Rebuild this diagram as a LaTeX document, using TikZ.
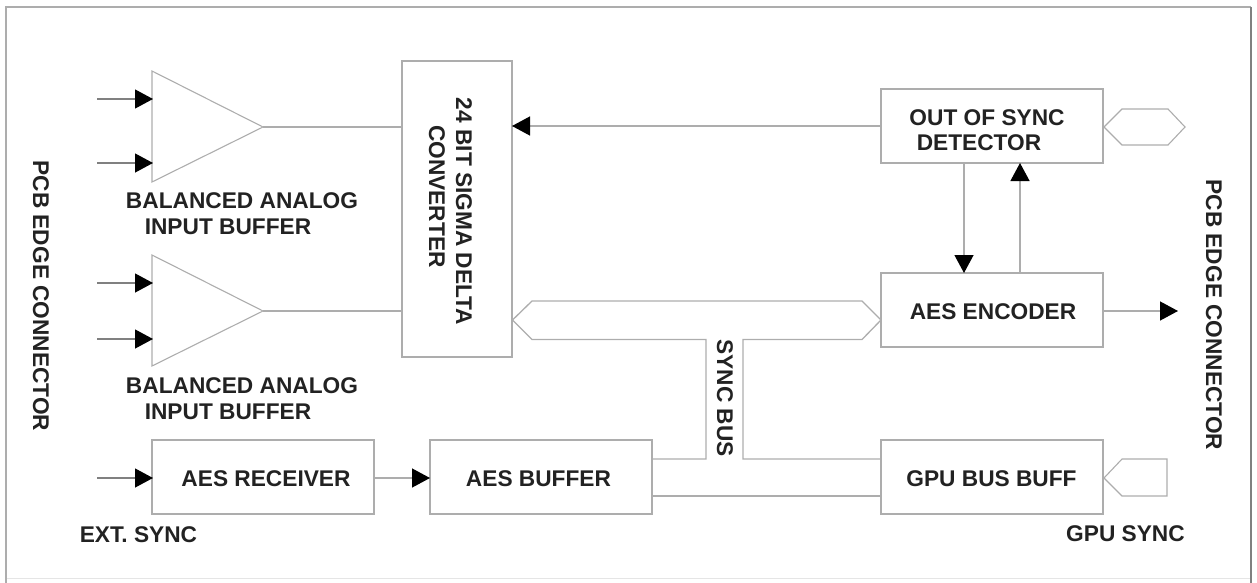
\documentclass[tikz,border=0pt]{standalone}
\usepackage{fontspec}
\setmainfont{Liberation Sans}
\usetikzlibrary{arrows.meta}
\definecolor{linegrey}{HTML}{ADADAD}
\definecolor{inkdark}{HTML}{222222}
\tikzset{
  frameline/.style={draw=#1,line width=1.8pt},
  blk/.style={draw=linegrey,line width=1.4pt,fill=white,inner sep=0pt,outer sep=0pt,minimum width=222pt,minimum height=74pt},
  wire/.style={draw=linegrey,line width=1.2pt},
  shapeline/.style={draw=linegrey,line width=1.1pt,line join=miter},
  inwire/.style={draw=gray,line width=1.2pt,-{Triangle[length=18pt,width=19pt,color=black]}},
  arrwire/.style={draw=linegrey,line width=1.3pt,-{Triangle[length=18pt,width=19pt,color=black]}},
  lbl/.style={font=\fontsize{22.7}{26}\selectfont\bfseries,text=inkdark,inner sep=0pt,outer sep=0pt,align=center},
}
\begin{document}
\begin{tikzpicture}[x=1pt,y=-1pt]
\useasboundingbox (0,0) rectangle (1257,583);
% frame
\draw[draw=gray!20,line width=1pt] (6,578) -- (1251,578);
\draw[frameline=linegrey] (1251,7) -- (6,7) -- (6,583);
\draw[frameline=gray] (1251,7) -- (1251,583);
% blocks
\node[blk,minimum width=110pt,minimum height=296pt] (adc) at (457,209) {};
\node[blk] (oos) at (992,126) {};
\node[blk] (enc) at (992,310) {};
\node[blk] (gpu) at (992,477) {};
\node[blk] (rx) at (263,477) {};
\node[blk] (buf) at (541,477) {};
% amplifiers
\coordinate (a1t) at (152,71); \coordinate (a1o) at (263,127); \coordinate (a1b) at (152,182);
\coordinate (a2t) at (152,255); \coordinate (a2o) at (263,311); \coordinate (a2b) at (152,366);
\draw[shapeline] (a1t) -- (a1o) -- (a1b) -- cycle;
\draw[shapeline] (a2t) -- (a2o) -- (a2b) -- cycle;
% inputs
\coordinate (i1) at (97,99); \coordinate (t1) at (153,99);
\coordinate (i2) at (97,163); \coordinate (t2) at (153,163);
\coordinate (i3) at (97,283); \coordinate (t3) at (153,283);
\coordinate (i4) at (97,339); \coordinate (t4) at (153,339);
\coordinate (i5) at (97,478); \coordinate (t5) at (153,478);
\draw[inwire] (i1) -- (t1);
\draw[inwire] (i2) -- (t2);
\draw[inwire] (i3) -- (t3);
\draw[inwire] (i4) -- (t4);
\draw[inwire] (i5) -- (t5);
% connectors
\draw[wire] (a1o) -- (a1o -| adc.west);
\draw[wire] (a2o) -- (a2o -| adc.west);
\draw[arrwire] (oos.west) -- (oos.west -| adc.east);
\draw[arrwire] (964,163) -- (964,273);
\draw[arrwire] (1020,273) -- (1020,163);
\coordinate (out) at (1178,311);
\draw[arrwire] (out -| enc.east) -- (out);
\draw[arrwire] (rx.east |- i5) -- (buf.west |- i5);
\draw[wire] (buf.east |- 0,496) -- (gpu.west |- 0,496);
% sync bus
\draw[shapeline,line width=1.3pt] (buf.east |- 0,459) -- (706,459) -- (706,339.5) -- (532,339.5) -- (512.5,320) -- (532,301) -- (862,301) -- (881,320) -- (862,339.5) -- (743,339.5) -- (743,459) -- (gpu.west |- 0,459);
% ports
\draw[shapeline] (1104,127) -- (1122,109) -- (1168,109) -- (1185,127) -- (1168,145) -- (1122,145) -- cycle;
\draw[shapeline] (1104,478) -- (1122,459) -- (1167,459) -- (1167,496) -- (1122,496) -- cycle;
% labels
\node[lbl] (t_b1a) at (242,201) {BALANCED ANALOG};
\node[lbl] (t_b1b) at (228,227) {INPUT BUFFER};
\node[lbl] (t_b2a) at (242,386) {BALANCED ANALOG};
\node[lbl] (t_b2b) at (228,412) {INPUT BUFFER};
\node[lbl] (t_rx) at (266,479) {AES RECEIVER};
\node[lbl] (t_buf) at (538.5,479) {AES BUFFER};
\node[lbl] (t_gpu) at (991.5,479) {GPU BUS BUFF};
\node[lbl] (t_enc) at (993,312) {AES ENCODER};
\node[lbl] (t_oos1) at (987,118) {OUT OF SYNC};
\node[lbl] (t_oos2) at (979,143) {DETECTOR};
\node[lbl] (t_ext) at (138.5,535) {EXT. SYNC};
\node[lbl] (t_gsync) at (1125.5,534) {GPU SYNC};
\node[lbl,rotate=-90] (t_adc1) at (464,211.5) {24 BIT SIGMA DELTA};
\node[lbl,rotate=-90] (t_adc2) at (437,196.5) {CONVERTER};
\node[lbl,rotate=-90] (t_sync) at (725,398) {SYNC BUS};
\node[lbl,rotate=-90] (t_pl) at (41,296) {PCB EDGE CONNECTOR};
\node[lbl,rotate=-90] (t_pr) at (1214,315) {PCB EDGE CONNECTOR};
\end{tikzpicture}
\end{document}
